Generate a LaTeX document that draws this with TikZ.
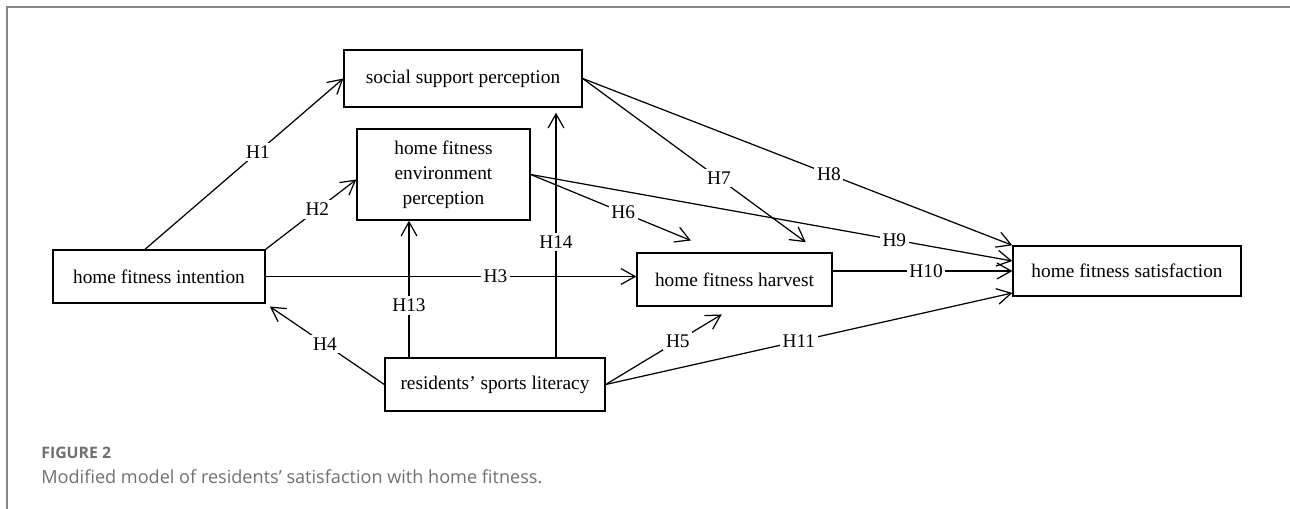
\documentclass[tikz,border=0pt]{standalone}
\usepackage{fontspec}
\setmainfont{Liberation Serif}
\newfontfamily\captionfont{Open Sans}
\usetikzlibrary{arrows.meta}
\tikzset{>={Straight Barb[length=8pt,width=9pt]}}
\definecolor{framegray}{RGB}{135,135,135}
\definecolor{captiongray}{RGB}{112,112,112}
\tikzset{
  factor/.style = {draw, line width=0.8pt, inner sep=0pt, align=center,
    font=\fontsize{11}{14.2}\selectfont},
  hyp/.style = {fill=white, inner sep=1.5pt, font=\fontsize{11}{13}\selectfont},
  link/.style = {->, line width=0.7pt}
}

\begin{document}
\begin{tikzpicture}[x=0.02cm,y=-0.02cm]
  \useasboundingbox (0,0) rectangle (1290,509);
  \draw[framegray,line width=0.8pt] (1290,7) -- (7,7) -- (7,509);

  \node[factor,minimum width=4.76cm,minimum height=1.14cm] (ssp) at (463,78.5) {social support perception};
  \node[factor,minimum width=3.46cm,minimum height=1.82cm] (env) at (443.5,174.5) {home fitness\\environment\\perception};
  \node[factor,minimum width=4.24cm,minimum height=1.06cm] (intent) at (159,276.5) {home fitness intention};
  \node[factor,minimum width=3.9cm,minimum height=1.06cm] (harvest) at (734.5,279.5) {home fitness harvest};
  \node[factor,minimum width=4.56cm,minimum height=1cm] (satis) at (1127,271) {home fitness satisfaction};
  \node[factor,minimum width=4.4cm,minimum height=1.06cm] (literacy) at (495,384.5) {residents' sports literacy};

  \coordinate (h13) at ([shift={(-86,0)}]literacy.north);
  \coordinate (h14) at ([shift={(61,0)}]literacy.north);

  \draw[link] (intent.east) -- (intent.east -| harvest.west) node[hyp,pos=0.62] {H3};
  \draw[link] (h13) -- (h13 |- env.south) node[hyp,pos=0.38] {H13};
  \draw[link,shorten >=0.1cm] (h14) -- (h14 |- ssp.south) node[hyp,pos=0.46] {H14};
  \draw[link] ([shift={(-14,0)}]intent.north) -- (ssp.west) node[hyp,pos=0.57] {H1};
  \draw[link] (intent.north east) -- ([shift={(0,5)}]env.west) node[hyp,pos=0.57] {H2};
  \draw[link,shorten >=0.1cm] (literacy.west) -- (intent.south east) node[hyp,pos=0.5] {H4};
  \draw[link,shorten >=0.3cm] (literacy.east) -- (harvest.south) node[hyp,pos=0.56] {H5};
  \draw[link,shorten >=0.62cm] (env.east) -- ([shift={(-15,0)}]harvest.north) node[hyp,pos=0.49] {H6};
  \draw[link] (env.east) -- ([shift={(0,-10)}]satis.west) node[hyp,pos=0.755] {H9};
  \draw[link,shorten >=0.34cm] (ssp.east) -- ([shift={(85,0)}]harvest.north) node[hyp,pos=0.575] {H7};
  \draw[link] (ssp.east) -- (satis.north west) node[hyp,pos=0.573] {H8};
  \draw[link] (harvest.east |- satis.west) -- (satis.west) node[hyp,pos=0.52] {H10};
  \draw[link] (literacy.east) -- ([shift={(0,22)}]satis.west) node[hyp,pos=0.475] {H11};

  \node[anchor=west,inner sep=0pt,text=captiongray,font=\captionfont\fontsize{9}{11}\selectfont\bfseries] (figno) at (41,453) {FIGURE 2};
  \node[anchor=west,inner sep=0pt,text=captiongray,font=\captionfont\fontsize{10.3}{12}\selectfont] (caption) at (41,477) {Modified model of residents’ satisfaction with home fitness.};
\end{tikzpicture}
\end{document}
